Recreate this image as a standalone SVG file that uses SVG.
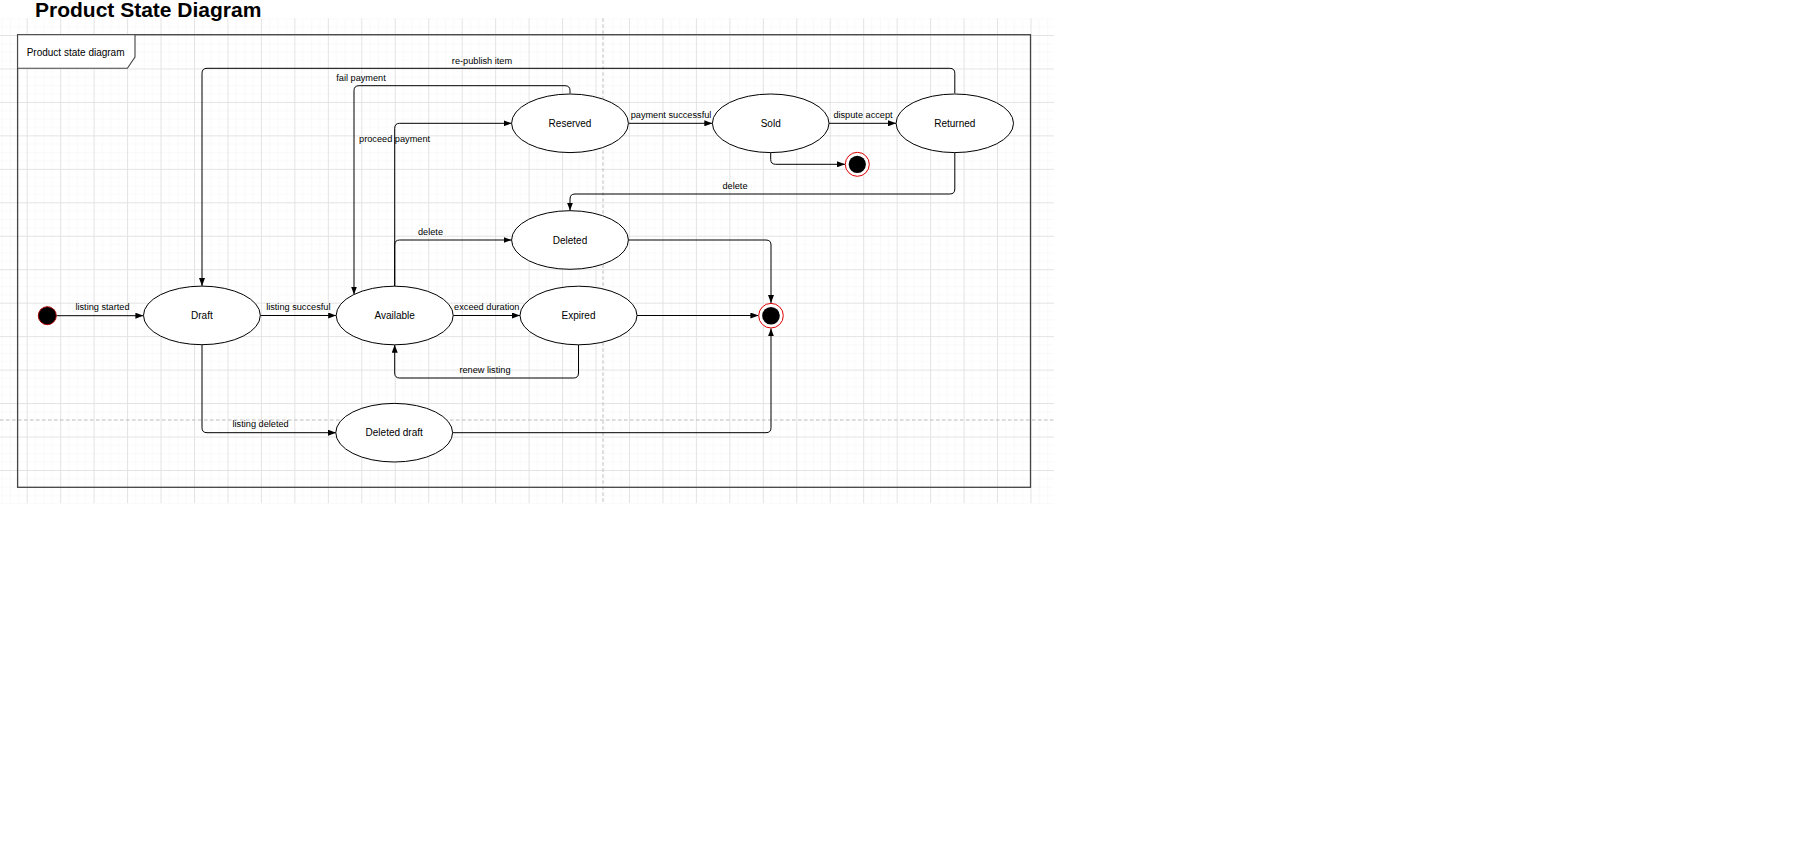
<svg xmlns="http://www.w3.org/2000/svg" width="1802" height="849" viewBox="0 0 1802 849">
<style>
.node{fill:#ffffff;stroke:#000000;stroke-width:1}
.nlabel{font-family:"Liberation Sans",Arial,sans-serif;font-size:10px;fill:#000000;text-anchor:middle}
.elabel{font-family:"Liberation Sans",Arial,sans-serif;font-size:9.2px;fill:#000000;text-anchor:middle}
.edge{fill:none;stroke:#000000;stroke-width:1;marker-end:url(#arrow)}
.title{font-family:"Liberation Sans",Arial,sans-serif;font-size:21px;font-weight:bold;fill:#000000}
.pagebreak{stroke:#bdbdbd;stroke-width:1;stroke-dasharray:3.5 2.5;fill:none}
</style>
<defs>
<pattern id="grid" patternUnits="userSpaceOnUse" x="26.7" y="35" width="33.46" height="33.46">
<rect x="8.36" y="0" width="0.8" height="33.46" fill="#f8f8f8"/>
<rect x="16.73" y="0" width="0.8" height="33.46" fill="#f8f8f8"/>
<rect x="25.1" y="0" width="0.8" height="33.46" fill="#f8f8f8"/>
<rect x="0" y="8.36" width="33.46" height="0.8" fill="#f8f8f8"/>
<rect x="0" y="16.73" width="33.46" height="0.8" fill="#f8f8f8"/>
<rect x="0" y="25.1" width="33.46" height="0.8" fill="#f8f8f8"/>
<rect x="0" y="0" width="1" height="33.46" fill="#e3e3e3"/>
<rect x="0" y="0" width="33.46" height="1" fill="#e3e3e3"/>
</pattern>
<marker id="arrow" markerUnits="userSpaceOnUse" markerWidth="8" markerHeight="6" refX="8" refY="3" orient="auto">
<path d="M0,0 L8,3 L0,6 Z" fill="#000000"/>
</marker>
</defs>
<rect x="0" y="0" width="1802" height="849" fill="#ffffff"/>
<rect x="0" y="18.3" width="1054" height="485" fill="url(#grid)"/>
<line class="pagebreak" x1="603" y1="18.3" x2="603" y2="503.3"/>
<line class="pagebreak" x1="0" y1="420" x2="1054" y2="420"/>
<text class="title" x="35" y="16.5">Product State Diagram</text>
<g id="frame">
<rect x="17.6" y="34.7" width="1012.9" height="452.6" fill="none" stroke="#444444" stroke-width="1.3"/>
<path d="M17.6,34.7 H135 V57 L127.4,68.3 H17.6 Z" fill="#ffffff" stroke="#444444" stroke-width="1.1"/>
<text x="26.7" y="55.5" font-family="'Liberation Sans',Arial,sans-serif" font-size="10px" fill="#000000">Product state diagram</text>
</g>
<g id="connectors">
<path class="edge" d="M56.5,315.7 H143.4"/>
<path class="edge" d="M260.4,315.5 H336.2"/>
<path class="edge" d="M453.2,315.5 H520"/>
<path class="edge" d="M637,315.5 H758.4"/>
<path class="edge" d="M578.5,344.8 V373 Q578.5,378 573.5,378 H399.7 Q394.7,378 394.7,373 V344.8"/>
<path class="edge" d="M202,344.7 V427.7 Q202,432.7 207,432.7 H336"/>
<path class="edge" d="M452.5,432.7 H766 Q771,432.7 771,427.7 V328.4"/>
<path class="edge" d="M628.6,240 H766 Q771,240 771,245 V303"/>
<path class="edge" d="M394.7,286.2 V128.3 Q394.7,123.3 399.7,123.3 H511.6"/>
<path class="edge" d="M394.7,286.2 V245 Q394.7,240 399.7,240 H511.6"/>
<path class="edge" d="M570,93.3 V90.7 Q570,85.7 565,85.7 H359 Q354,85.7 354,90.7 V294.5"/>
<path class="edge" d="M954.8,93.3 V73.3 Q954.8,68.3 949.8,68.3 H207 Q202,68.3 202,73.3 V286"/>
<path class="edge" d="M628.5,123.3 H712.3"/>
<path class="edge" d="M829,123.3 H896"/>
<path class="edge" d="M770.7,152.6 V159.3 Q770.7,164.3 775.7,164.3 H845"/>
<path class="edge" d="M954.8,152.6 V189 Q954.8,194 949.8,194 H575 Q570,194 570,199 V210.6"/>
<text class="elabel" x="102.5" y="310">listing started</text>
<text class="elabel" x="298.3" y="310">listing succesful</text>
<text class="elabel" x="486.8" y="310">exceed duration</text>
<text class="elabel" x="485" y="372.7">renew listing</text>
<text class="elabel" x="260.6" y="427.3">listing deleted</text>
<text class="elabel" x="394.6" y="141.7">proceed payment</text>
<text class="elabel" x="430.5" y="235">delete</text>
<text class="elabel" x="361" y="81">fail payment</text>
<text class="elabel" x="482" y="64">re-publish item</text>
<text class="elabel" x="671" y="118">payment successful</text>
<text class="elabel" x="863" y="118">dispute accept</text>
<text class="elabel" x="735" y="189">delete</text>
</g>
<g id="initial">
<circle cx="47.3" cy="315.7" r="9" fill="#000000" stroke="#aa0000" stroke-width="1"/>
</g>
<g id="draft">
<ellipse class="node" cx="201.9" cy="315.4" rx="58.4" ry="29.3"/>
<text class="nlabel" x="201.9" y="319">Draft</text>
</g>
<g id="available">
<ellipse class="node" cx="394.7" cy="315.5" rx="58.5" ry="29.3"/>
<text class="nlabel" x="394.7" y="319.1">Available</text>
</g>
<g id="expired">
<ellipse class="node" cx="578.5" cy="315.5" rx="58.5" ry="29.3"/>
<text class="nlabel" x="578.5" y="319.1">Expired</text>
</g>
<g id="deleted-draft">
<ellipse class="node" cx="394.2" cy="432.7" rx="58.4" ry="29.3"/>
<text class="nlabel" x="394.2" y="436.3">Deleted draft</text>
</g>
<g id="reserved">
<ellipse class="node" cx="570" cy="123.3" rx="58.4" ry="29.3"/>
<text class="nlabel" x="570" y="126.9">Reserved</text>
</g>
<g id="deleted">
<ellipse class="node" cx="570" cy="240" rx="58.4" ry="29.3"/>
<text class="nlabel" x="570" y="243.6">Deleted</text>
</g>
<g id="sold">
<ellipse class="node" cx="770.7" cy="123.3" rx="58.3" ry="29.3"/>
<text class="nlabel" x="770.7" y="126.9">Sold</text>
</g>
<g id="returned">
<ellipse class="node" cx="954.8" cy="123.3" rx="58.7" ry="29.3"/>
<text class="nlabel" x="954.8" y="126.9">Returned</text>
</g>
<g id="final-sold">
<circle cx="857.3" cy="164.3" r="12" fill="#ffffff" stroke="#e00000" stroke-width="1"/>
<circle cx="857.3" cy="164.3" r="8.6" fill="#000000"/>
</g>
<g id="final-main">
<circle cx="771" cy="315.7" r="12.3" fill="#ffffff" stroke="#e00000" stroke-width="1"/>
<circle cx="771" cy="315.7" r="8.8" fill="#000000"/>
</g>
</svg>
